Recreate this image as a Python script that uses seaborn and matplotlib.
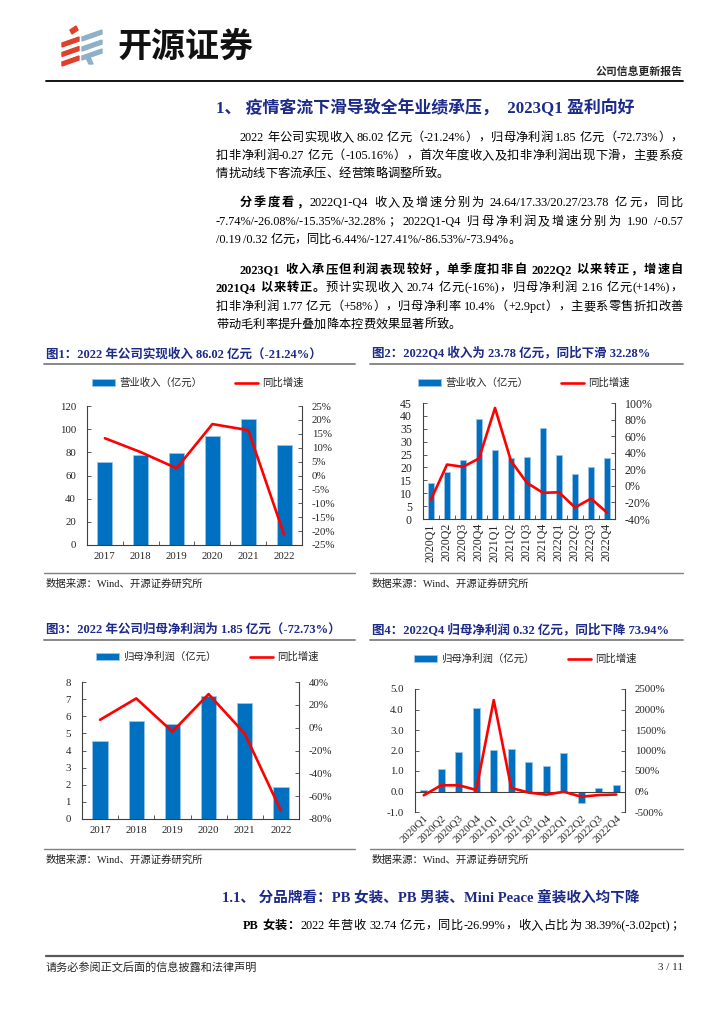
import re
import numpy as np
import pandas as pd
import matplotlib
matplotlib.use("Agg")
import matplotlib.pyplot as plt
import seaborn as sns
from matplotlib.lines import Line2D
from matplotlib.patches import Patch, Polygon
from matplotlib.ticker import FuncFormatter

# style
sns.set_theme(style="white")
plt.rcParams['font.family'] = ['Liberation Serif', 'Noto Sans CJK SC', 'DejaVu Sans']

# data
years = ['2017', '2018', '2019', '2020', '2021', '2022']
quarters = ['2020Q1', '2020Q2', '2020Q3', '2020Q4', '2021Q1', '2021Q2',
            '2021Q3', '2021Q4', '2022Q1', '2022Q2', '2022Q3', '2022Q4']

rev_year = [71.6, 77.6, 79.6, 93.9, 109.2, 86.02]
rev_year_yoy = [13.4, 8.4, 2.6, 18.5, 16.3, -21.24]

rev_q = [13.9, 18.3, 23.0, 38.7, 26.8, 23.6, 24.0, 35.2, 24.64, 17.33, 20.27, 23.78]
rev_q_yoy = [-16.5, 25.7, 23.0, 33.0, 94.0, 30.0, 3.6, -8.4, -7.74, -26.08, -15.35, -32.28]

np_year = [4.57, 5.74, 5.54, 7.17, 6.80, 1.85]
np_year_yoy = [6.9, 25.6, -3.5, 29.4, -5.2, -72.73]

np_q = [0.09, 1.12, 1.92, 4.06, 2.04, 2.08, 1.43, 1.24, 1.90, -0.57, 0.19, 0.32]
np_q_yoy = [-92, 152, 152, 38, 2230, 87, -27, -76, -6.44, -127.41, -86.53, -73.94]

BLUE = '#0070C0'
EDGE = '#9DC3E6'
RED = '#FF0000'
NAVY = '#1C2A8A'
SPINE = '#404040'
GRAY = '#7F7F7F'

W, H = 724, 1024
fig = plt.figure(figsize=(W / 100, H / 100), dpi=100)


def fx(x):
    return x / W


def fy(y):
    return 1 - y / H


def hline(x0, x1, y, color=GRAY, lw=1.2):
    fig.add_artist(Line2D([fx(x0), fx(x1)], [fy(y), fy(y)], color=color, lw=lw,
                          transform=fig.transFigure))


TOK = re.compile(r'[A-Za-z0-9.%+\-/()]+|\s+|.')


def text_line(x0, y, segs, x1=None, size=8.8, color='black'):
    # place tokens one by one so a line can be justified to x1
    renderer = fig.canvas.get_renderer()
    parts = []
    for s, bold in segs:
        for tok in TOK.findall(s):
            if tok.isspace():
                parts.append((None, 2.5))
                continue
            t = fig.text(0, fy(y), tok, fontsize=size, color=color, va='center', ha='left',
                         fontweight='bold' if bold else 'normal')
            parts.append((t, t.get_window_extent(renderer).width))
    total = sum(w for _, w in parts)
    gap = 0.0
    if x1 is not None and len(parts) > 1:
        gap = (x1 - x0 - total) / (len(parts) - 1)
    x = x0
    for t, w in parts:
        if t is not None:
            t.set_x(fx(x))
        x += w + gap


def chart(rect, cats, bars, yoy, bar_name, ylim, ystep, y2lim, y2step,
          legend_xy, yfmt='{:.0f}', rot=0, zero_line=False, tick_size=7.8):
    x0, y0, x1, y1 = rect
    ax = fig.add_axes([fx(x0), fy(y1), (x1 - x0) / W, (y1 - y0) / H])
    n = len(cats)
    sns.barplot(x=cats, y=bars, ax=ax, color=BLUE, saturation=1, width=0.42,
                edgecolor=EDGE, linewidth=0.6)
    ax2 = ax.twinx()
    sns.lineplot(x=np.arange(n), y=yoy, ax=ax2, color=RED, linewidth=1.9, sort=False)
    ax.set_xlim(-0.5, n - 0.5)

    ax.set_ylim(*ylim)
    ax.set_yticks(np.arange(ylim[0], ylim[1] + ystep / 2, ystep))
    ax.yaxis.set_major_formatter(FuncFormatter(lambda v, _: yfmt.format(v)))
    ax2.set_ylim(*y2lim)
    ax2.set_yticks(np.arange(y2lim[0], y2lim[1] + y2step / 2, y2step))
    ax2.yaxis.set_major_formatter(FuncFormatter(lambda v, _: f'{v:.0f}%'))
    for a in (ax, ax2):
        a.set_xlabel('')
        a.set_ylabel('')
        a.spines['top'].set_visible(False)
        for s in a.spines.values():
            s.set_color(SPINE)
            s.set_linewidth(0.8)
    ax.spines['right'].set_visible(False)
    ax2.spines['left'].set_visible(False)
    ax2.spines['bottom'].set_visible(False)

    ax.tick_params(axis='y', left=True, direction='in', length=3, width=0.6,
                   color=SPINE, labelsize=tick_size, pad=8)
    ax2.tick_params(axis='y', right=True, direction='in', length=3, width=0.6,
                    color=SPINE, labelsize=tick_size, pad=7)
    ax.tick_params(axis='x', which='major', length=0, labelsize=tick_size, pad=5)
    if zero_line:
        ax.spines['bottom'].set_visible(False)
        ax.axhline(0, color=SPINE, lw=0.8, zorder=1)
    else:
        ax.set_xticks(np.arange(0.5, n - 1), minor=True)
        ax.tick_params(axis='x', which='minor', bottom=True, direction='in', length=3,
                       width=0.6, color=SPINE)
    if rot == 90:
        ax.tick_params(axis='x', pad=3)
        plt.setp(ax.get_xticklabels(), rotation=90, ha='center', va='top')
    elif rot == 45:
        ax.tick_params(axis='x', pad=1)
        plt.setp(ax.get_xticklabels(), rotation=45, ha='right', va='top',
                 rotation_mode='anchor')

    handles = [Patch(facecolor=BLUE, edgecolor=EDGE, linewidth=0.6),
               Line2D([], [], color=RED, lw=1.9)]
    ax2.legend(handles, [bar_name, '同比增速'], ncol=2, loc='center',
               bbox_to_anchor=(fx(legend_xy[0]), fy(legend_xy[1])),
               bbox_transform=fig.transFigure, frameon=False,
               prop={'size': 7.5}, handlelength=2.2, handleheight=0.6,
               handletextpad=0.4, columnspacing=3.2)
    return ax, ax2


def panel(x_left, x_right, y_title, y_src, title):
    fig.text(fx(x_left), fy(y_title), title, fontsize=9, fontweight='bold',
             color=NAVY, va='center', ha='left')
    hline(x_left - 2, x_right, y_title + 10, lw=1.3)
    hline(x_left - 2, x_right, y_src - 11, lw=1.0)
    fig.text(fx(x_left), fy(y_src), '数据来源：Wind、开源证券研究所', fontsize=7.5,
             va='center', ha='left', color='#222222')


# header / logo
for yc in (38, 47.5, 57):
    fig.add_artist(Polygon([(fx(62), fy(yc + 5)), (fx(79), fy(yc - 1)), (fx(79), fy(yc + 3)),
                            (fx(62), fy(yc + 9))], closed=True, color='#E0402A',
                           transform=fig.transFigure))
fig.add_artist(Polygon([(fx(70), fy(30)), (fx(76), fy(26)), (fx(78), fy(30)), (fx(72), fy(34))],
                       closed=True, color='#E0402A', transform=fig.transFigure))
for yc in (31, 41, 50):
    fig.add_artist(Polygon([(fx(82), fy(yc + 6)), (fx(102), fy(yc - 1)), (fx(102), fy(yc + 3)),
                            (fx(82), fy(yc + 10))], closed=True, color='#8FB0C6',
                           transform=fig.transFigure))
fig.add_artist(Polygon([(fx(86), fy(58)), (fx(90), fy(57)), (fx(93), fy(64)), (fx(89), fy(64))],
                       closed=True, color='#8FB0C6', transform=fig.transFigure))
fig.text(fx(117), fy(46), '开源证券', fontsize=24.5, fontweight='heavy',
         family=['Noto Sans CJK SC'], color='#111111', va='center', ha='left')
fig.text(fx(683), fy(72), '公司信息更新报告', fontsize=7.8, fontweight='bold',
         va='center', ha='right')
hline(46, 683, 81, color='black', lw=1.3)

# body text
fig.text(fx(216), fy(108), '1、 疫情客流下滑导致全年业绩承压，  2023Q1 盈利向好', fontsize=12.2,
         fontweight='bold', color=NAVY, va='center', ha='left')

R = 683
text_line(240, 138, [('2022 年公司实现收入 86.02 亿元（-21.24%），归母净利润 1.85 亿元（-72.73%），', False)], R)
text_line(216, 156, [('扣非净利润-0.27 亿元（-105.16%），首次年度收入及扣非净利润出现下滑，主要系疫', False)], R)
text_line(216, 174, [('情扰动线下客流承压、经营策略调整所致。', False)])

text_line(240, 203, [('分季度看，', True),
                     ('2022Q1-Q4 收入及增速分别为 24.64/17.33/20.27/23.78 亿元，同比', False)], R)
text_line(216, 222, [('-7.74%/-26.08%/-15.35%/-32.28%；2022Q1-Q4 归母净利润及增速分别为 1.90 /-0.57', False)], R)
text_line(216, 240, [('/0.19 /0.32 亿元，同比-6.44%/-127.41%/-86.53%/-73.94%。', False)])

text_line(240, 270, [('2023Q1 收入承压但利润表现较好，单季度扣非自 2022Q2 以来转正，增速自', True)], R)
text_line(216, 288, [('2021Q4 以来转正。', True),
                     ('预计实现收入 20.74 亿元(-16%)，归母净利润 2.16 亿元(+14%)，', False)], R)
text_line(216, 307, [('扣非净利润 1.77 亿元（+58%），归母净利率 10.4%（+2.9pct），主要系零售折扣改善', False)], R)
text_line(216, 325, [('带动毛利率提升叠加降本控费效果显著所致。', False)])

# charts
panel(46, 355, 354, 584, '图1：2022 年公司实现收入 86.02 亿元（-21.24%）')
chart((87, 406, 302, 545), years, rev_year, rev_year_yoy, '营业收入（亿元）',
      (0, 120), 20, (-25, 25), 5, (198, 383))

panel(372, 683, 354, 584, '图2：2022Q4 收入为 23.78 亿元，同比下滑 32.28%')
chart((423, 403, 615, 519), quarters, rev_q, rev_q_yoy, '营业收入（亿元）',
      (0, 45), 5, (-40, 100), 20, (524, 383), rot=90, tick_size=8.6)

panel(46, 355, 630, 860, '图3：2022 年公司归母净利润为 1.85 亿元（-72.73%）')
chart((82, 682, 299, 819), years, np_year, np_year_yoy, '归母净利润（亿元）',
      (0, 8), 1, (-80, 40), 20, (207, 657))

panel(372, 683, 630, 860, '图4：2022Q4 归母净利润 0.32 亿元，同比下降 73.94%')
chart((415, 689, 625, 812), quarters, np_q, np_q_yoy, '归母净利润（亿元）',
      (-1, 5), 1, (-500, 2500), 500, (525, 659), yfmt='{:.1f}', rot=45, zero_line=True)

# section 1.1
fig.text(fx(222), fy(897), '1.1、 分品牌看：PB 女装、PB 男装、Mini Peace 童装收入均下降',
         fontsize=10.5, fontweight='bold', color=NAVY, va='center', ha='left')
text_line(243, 926, [('PB 女装：', True),
                     ('2022 年营收 32.74 亿元，同比-26.99%，收入占比为 38.39%(-3.02pct)；', False)], R)

# footer
hline(46, 683, 956, color='#595959', lw=1.6)
fig.text(fx(46), fy(967), '请务必参阅正文后面的信息披露和法律声明', fontsize=8,
         va='center', ha='left')
fig.text(fx(683), fy(967), '3 / 11', fontsize=8, va='center', ha='right')

fig.savefig('out.png', dpi=100)
